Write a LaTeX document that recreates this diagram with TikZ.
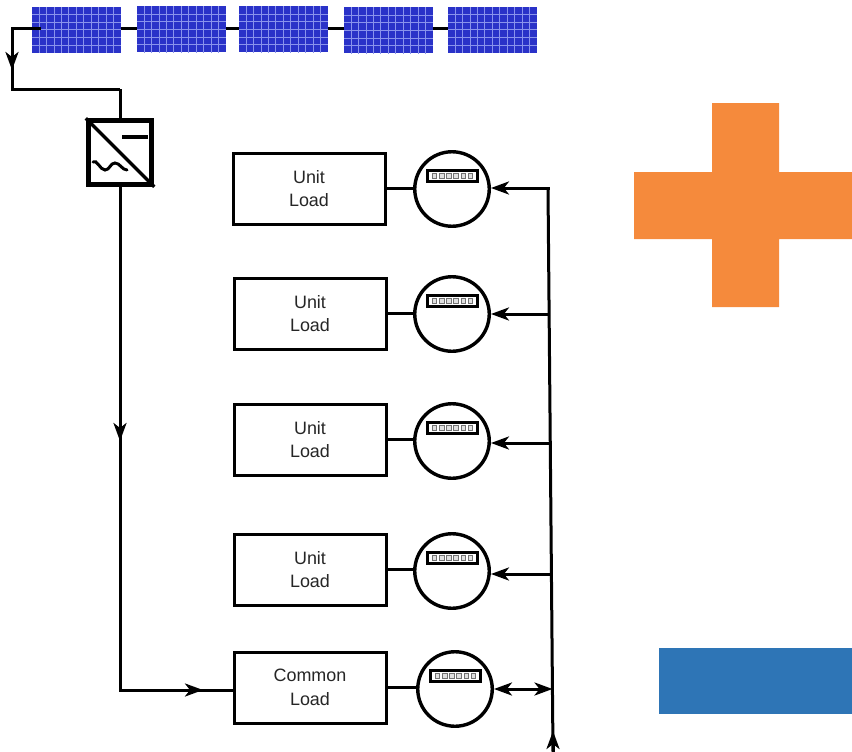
\documentclass[tikz,border=0pt]{standalone}
\usepackage{fontspec}
\setmainfont{Liberation Sans}
\usetikzlibrary{arrows.meta,calc}
\definecolor{panelblue}{HTML}{2A32C8}
\definecolor{gridline}{HTML}{8A93EC}
\definecolor{plusorange}{HTML}{F58A3C}
\definecolor{barblue}{HTML}{2E75B6}
\tikzset{
  x=1bp,y=-1bp,
  wire/.style={line width=3bp,black,line join=miter},
  bighead/.tip={Stealth[length=18bp,width=13bp,inset=5bp]},
  tipped/.style={wire,-bighead},
  loadbox/.style={draw=black,line width=3bp,fill=white,minimum width=152bp,minimum height=71bp,inner sep=0pt,align=center,font=\fontsize{18}{23.5}\selectfont,text=black!85},
  meter/.style={circle,draw=black,line width=3.4bp,fill=white,minimum size=74.5bp,inner sep=0pt},
  panel/.style={fill=panelblue,minimum width=89bp,minimum height=46bp,inner sep=0pt},
  display/.style={draw=black,line width=2.6bp,fill=white,minimum width=50bp,minimum height=11bp,inner sep=0pt},
  digit/.style={fill=black!12,draw=black!55,line width=0.7bp,minimum width=4.6bp,minimum height=5bp,inner sep=0pt},
  converter/.style={draw=black,line width=5bp,fill=white,minimum size=63.5bp,inner sep=0pt},
}
\newcommand{\solarpanel}[3]{%
  \node[panel] (#1) at (#2,#3) {};
  \foreach \i in {1,...,11}
    \draw[gridline,line width=0.8bp] ($(#1.north west)+(\i*89/12,0)$) -- ($(#1.south west)+(\i*89/12,0)$);
  \foreach \j in {1,...,5}
    \draw[gridline,line width=0.8bp] ($(#1.north west)+(0,\j*46/6)$) -- ($(#1.north east)+(0,\j*46/6)$);
}
\newcommand{\metersym}[3]{%
  \node[meter] (#1) at (#2,#3) {};
  \node[display] (#1d) at (#2+0.5,#3-13) {};
  \foreach \k in {-2.5,-1.5,-0.5,0.5,1.5,2.5}
    \node[digit] at (#2+0.5+\k*7.2,#3-13) {};
}
\begin{document}
\begin{tikzpicture}
\useasboundingbox (0,0) rectangle (852,752);
\coordinate (stringy) at (0,29);
\coordinate (pvtap) at (41,29);
\coordinate (pvcorner) at (12,29);
\coordinate (pvtip) at (12,70);
\coordinate (pvlow) at (12,89);
\coordinate (invtop) at (120,89);
\coordinate (acmid) at (120,441);
\coordinate (accorner) at (120,690);
\coordinate (actip) at (203,690);
\coordinate (bustop) at (548,188);
\coordinate (busbottom) at (553,752);
\coordinate (bustip) at (553,731);
\coordinate (b2) at (550,314);
\coordinate (b3) at (550.5,443);
\coordinate (b4) at (552,574);
\coordinate (b5) at (552.5,689);

\solarpanel{p1}{76.5}{30}
\solarpanel{p2}{181.5}{29.5}
\solarpanel{p3}{283.5}{29.5}
\solarpanel{p4}{388.5}{30.5}
\solarpanel{p5}{492.5}{30}
\draw[wire] (p1.east |- stringy) -- (p2.west |- stringy);
\draw[wire] (p2.east |- stringy) -- (p3.west |- stringy);
\draw[wire] (p3.east |- stringy) -- (p4.west |- stringy);
\draw[wire] (p4.east |- stringy) -- (p5.west |- stringy);

% PV string to inverter
\draw[wire] (pvtap) -- (pvcorner) -- (pvlow) -- (invtop);
\draw[tipped] (pvcorner) -- (pvtip);

% Inverter
\node[converter] (inv) at (120,152.5) {};
\draw[wire] (invtop) -- (inv.north);
\draw[line width=3.5bp] (inv.north west) -- (inv.south east);
\draw[line width=3.5bp] (122,137) -- (148,137);
\draw[line width=3bp,line cap=round] (93,162) .. controls (97,159) and (100,170) .. (105,170) .. controls (110,170) and (110,163) .. (115,163) .. controls (120,163) and (122,170) .. (127,170);

% Loads
\node[loadbox] (l1) at (309,188.5) {Unit\\Load};
\node[loadbox] (l2) at (310,313.5) {Unit\\Load};
\node[loadbox] (l3) at (310,439.5) {Unit\\Load};
\node[loadbox] (l4) at (310,569.5) {Unit\\Load};
\node[loadbox] (l5) at (310,687.5) {Common\\Load};

% Meters
\metersym{m1}{452}{189}
\metersym{m2}{452}{314}
\metersym{m3}{452}{441}
\metersym{m4}{452}{571}
\metersym{m5}{455}{689}

\draw[wire] (l1.east) -- (l1.east -| m1.west);
\draw[wire] (l2.east) -- (l2.east -| m2.west);
\draw[wire] (l3.east) -- (l3.east -| m3.west);
\draw[wire] (l4.east) -- (l4.east -| m4.west);
\draw[wire] (l5.east) -- (l5.east -| m5.west);

% Inverter to common load
\draw[wire] (inv.south) -- (accorner) -- (l5.west |- accorner);
\draw[tipped] (inv.south) -- (acmid);
\draw[tipped] (accorner) -- (actip);

% Bus
\draw[wire] (bustop) -- (busbottom);
\draw[tipped] (busbottom) -- (bustip);
\draw[tipped] ([xshift=1.5bp]bustop) -- (m1.east |- bustop);
\draw[tipped] (b2) -- (m2.east |- b2);
\draw[tipped] (b3) -- (m3.east |- b3);
\draw[tipped] (b4) -- (m4.east |- b4);
\draw[wire,bighead-bighead] (m5.east |- b5) -- (b5);

% Orange plus and blue bar
\fill[plusorange] (712,103) -- (779,103) -- (779,172) -- (852,172) -- (852,239) -- (779,239) -- (779,307) -- (712,307) -- (712,239) -- (634,239) -- (634,172) -- (712,172) -- cycle;
\fill[barblue] (659,648) rectangle (852,714);
\end{tikzpicture}
\end{document}
